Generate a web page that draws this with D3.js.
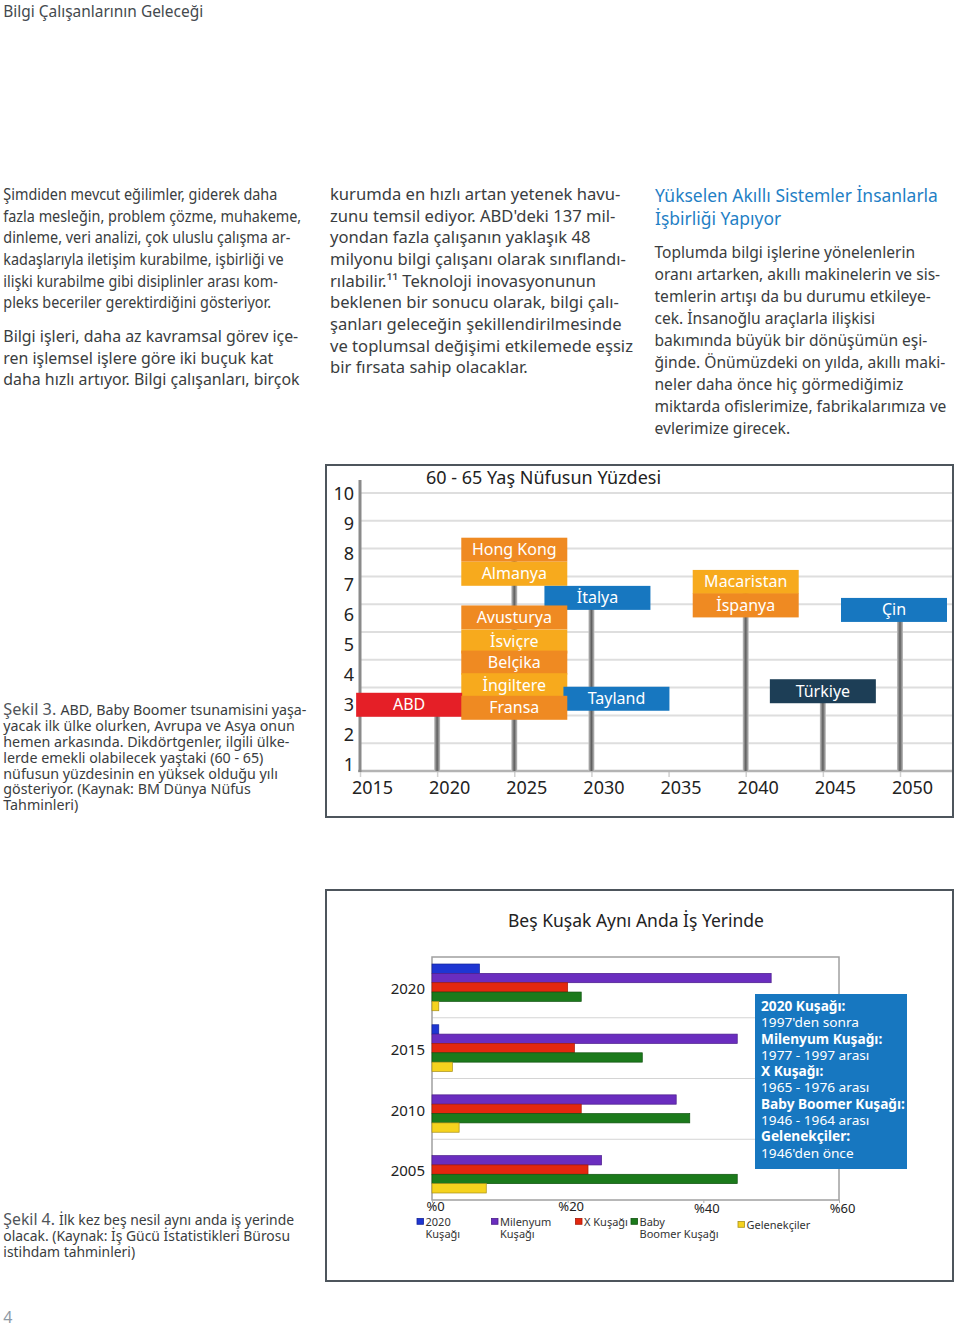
<!DOCTYPE html>
<html><head><meta charset="utf-8">
<script src="https://cdn.jsdelivr.net/npm/d3@7"></script>
<style>
html,body{margin:0;padding:0;background:#fff;}
svg{display:block;font-family:"Noto Sans","Open Sans",sans-serif;}
</style></head><body>
<svg id="page" width="960" height="1331"></svg>
<script>
// ---------- DATA: Şekil 3 ----------
const countries   = ["ABD","Hong Kong","Almanya","Avusturya","İsviçre","Belçika","İngiltere","Fransa","İtalya","Tayland","Macaristan","İspanya","Türkiye","Çin"];
const peakYears   = [2020,2025,2025,2025,2025,2025,2025,2025,2030,2030,2040,2040,2045,2050];
const peakShares  = [3.0,8.15,7.35,5.9,5.1,4.4,3.65,2.9,6.55,3.2,7.08,6.3,3.45,6.15];
const colorGroups = ["usa","euroDark","euroLight","euroDark","euroLight","euroDark","euroLight","euroDark","asia","asia","euroLight","euroDark","tr","asia"];
const yearTicks   = [2015,2020,2025,2030,2035,2040,2045,2050];
const shareTicks  = [1,2,3,4,5,6,7,8,9,10];

// ---------- DATA: Şekil 4 ----------
const snapshotYears   = ["2020","2015","2010","2005"];
const seriesNames     = ["2020 Kuşağı","Milenyum Kuşağı","X Kuşağı","Baby Boomer Kuşağı","Gelenekçiler"];
const shareGen2020    = [7, 1, 0, 0];
const shareMillennial = [50, 45, 36, 25];
const shareGenX       = [20, 21, 22, 23];
const shareBoomer     = [22, 31, 38, 45];
const shareTradition  = [1, 3, 4, 8];
const pctTicks        = [0, 20, 40, 60];
const legendLabels    = ["2020\nKuşağı","Milenyum\nKuşağı","X Kuşağı","Baby\nBoomer Kuşağı","Gelenekçiler"];
const infoPairs = [
  ["2020 Kuşağı:","1997'den sonra"],
  ["Milenyum Kuşağı:","1977 - 1997 arası"],
  ["X Kuşağı:","1965 - 1976 arası"],
  ["Baby Boomer Kuşağı:","1946 - 1964 arası"],
  ["Gelenekçiler:","1946'den önce"]
];

// ---------- TEXT ----------
const pageTitle = "Bilgi Çalışanlarının Geleceği";
const col1a = ["Şimdiden mevcut eğilimler, giderek daha","fazla mesleğin, problem çözme, muhakeme,","dinleme, veri analizi, çok uluslu çalışma ar-","kadaşlarıyla iletişim kurabilme, işbirliği ve","ilişki kurabilme gibi disiplinler arası kom-","pleks beceriler gerektirdiğini gösteriyor."];
const col1b = ["Bilgi işleri, daha az kavramsal görev içe-","ren işlemsel işlere göre iki buçuk kat","daha hızlı artıyor. Bilgi çalışanları, birçok"];
const col2  = ["kurumda en hızlı artan yetenek havu-","zunu temsil ediyor. ABD'deki 137 mil-","yondan fazla çalışanın yaklaşık 48","milyonu bilgi çalışanı olarak sınıflandı-","rılabilir.¹¹ Teknoloji inovasyonunun","beklenen bir sonucu olarak, bilgi çalı-","şanları geleceğin şekillendirilmesinde","ve toplumsal değişimi etkilemede eşsiz","bir fırsata sahip olacaklar."];
const col3h = ["Yükselen Akıllı Sistemler İnsanlarla","İşbirliği Yapıyor"];
const col3  = ["Toplumda bilgi işlerine yönelenlerin","oranı artarken, akıllı makinelerin ve sis-","temlerin artışı da bu durumu etkileye-","cek. İnsanoğlu araçlarla ilişkisi","bakımında büyük bir dönüşümün eşi-","ğinde. Önümüzdeki on yılda, akıllı maki-","neler daha önce hiç görmediğimiz","miktarda ofislerimize, fabrikalarımıza ve","evlerimize girecek."];
const cap3 = ["ABD, Baby Boomer tsunamisini yaşa-","yacak ilk ülke olurken, Avrupa ve Asya onun","hemen arkasında. Dikdörtgenler, ilgili ülke-","lerde emekli olabilecek yaştaki (60 - 65)","nüfusun yüzdesinin en yüksek olduğu yılı","gösteriyor. (Kaynak: BM Dünya Nüfus","Tahminleri)"];
const cap4 = ["İlk kez beş nesil aynı anda iş yerinde","olacak. (Kaynak: İş Gücü İstatistikleri Bürosu","istihdam tahminleri)"];

const svg = d3.select("#page");
const TXT = "#3a3d40";

// multi-line text block (one text element, one tspan per line), horizontally calibrated
function textBlock(lines, x, y0, lh, size, color, targetIdx, targetW, label) {
  const g = svg.append("g").attr("transform", `translate(${x},0)`);
  const inner = g.append("g");
  const text = inner.append("text").attr("font-size", size).attr("fill", color);
  const spans = text.selectAll("tspan.line").data(lines).join("tspan").attr("class", "line")
    .attr("x", 0).attr("y", (d, i) => y0 + i * lh);
  spans.each(function (d, i) {
    const s = d3.select(this);
    if (label && i === 0) s.append("tspan").attr("font-size", 16.5).attr("fill", "#50555a").text(label + " ");
    s.append("tspan").text(d);
  });
  if (targetW) {
    const w = spans.nodes()[targetIdx].getComputedTextLength();
    inner.attr("transform", `scale(${targetW / w},1)`);
  }
  return inner;
}

// page title
textBlock([pageTitle], 3.3, 17, 0, 17, "#44494e", 0, 200);

// columns
textBlock(col1a, 3.3, 200, 21.67, 16, TXT, 1, 298);
textBlock(col1b, 3.3, 342, 21.67, 16, TXT, 2, 296.5);
textBlock(col2, 330, 200, 21.67, 16, TXT, 3, 296);
textBlock(col3h, 655, 202, 23.2, 18.5, "#1f80c5", 0, 283);
textBlock(col3, 654.5, 258.5, 21.9, 16, TXT, 7, 292);

// captions
textBlock(cap3, 3.3, 715, 15.9, 14.5, TXT, 1, 291.7, "Şekil 3.");
textBlock(cap4, 3.3, 1225, 15.9, 14.5, TXT, 1, 287, "Şekil 4.");

svg.append("text").attr("x", 3.3).attr("y", 1323).attr("font-size", 16).attr("fill", "#8e9aa6").text("4");

// ================= Şekil 3 chart =================
svg.append("rect").attr("x", 326).attr("y", 465).attr("width", 627).attr("height", 352)
  .attr("fill", "#fff").attr("stroke", "#4d555c").attr("stroke-width", 2);

svg.append("text").attr("x", 426).attr("y", 483.5).attr("font-size", 18).attr("fill", "#222")
  .text("60 - 65 Yaş Nüfusun Yüzdesi");

const xTop = d3.scaleLinear().domain([2015, 2050]).range([360, 900]);
const yTop = d3.scaleLinear().domain([1, 10]).range([765, 494]);
const gridY = d3.scaleLinear().domain([0, 10]).range([771, 493]);

// gridlines
svg.append("g").selectAll("line").data(d3.range(1, 11)).join("line")
  .attr("x1", 360).attr("x2", 952)
  .attr("y1", d => gridY(d)).attr("y2", d => gridY(d))
  .attr("stroke", "#dedede").attr("stroke-width", 2);

// x axis
const xAxisG = svg.append("g").attr("transform", "translate(0,771)")
  .call(d3.axisBottom(xTop).tickValues(yearTicks).tickFormat(d3.format("d")).tickSize(6).tickPadding(4));
xAxisG.select(".domain").remove();
xAxisG.append("line").attr("x1", 358).attr("x2", 952).attr("stroke", "#b4b4b4").attr("stroke-width", 2.5);
xAxisG.selectAll(".tick line").attr("stroke", "#d0d0d0").attr("stroke-width", 1.5);
xAxisG.selectAll(".tick text").attr("font-size", 18).attr("fill", "#222").attr("dx", 12)
  .attr("font-family", "Noto Sans, sans-serif");

// y axis
const yAxisG = svg.append("g").attr("transform", "translate(360,0)")
  .call(d3.axisLeft(yTop).tickValues(shareTicks).tickSize(0).tickPadding(6));
yAxisG.select(".domain").remove();
yAxisG.selectAll(".tick text").attr("font-size", 18).attr("fill", "#222")
  .attr("font-family", "Noto Sans, sans-serif");
svg.append("line").attr("x1", 360).attr("x2", 360).attr("y1", 480).attr("y2", 772)
  .attr("stroke", "#8a8a8a").attr("stroke-width", 3);

// stems
const defs = svg.append("defs");
const grad = defs.append("linearGradient").attr("id", "stem").attr("x1", 0).attr("x2", 1).attr("y1", 0).attr("y2", 0);
grad.append("stop").attr("offset", 0).attr("stop-color", "#c4c4c4");
grad.append("stop").attr("offset", 0.5).attr("stop-color", "#5e5e5e");
grad.append("stop").attr("offset", 1).attr("stop-color", "#c4c4c4");

const boxes = countries.map((c, i) => ({ name: c, year: peakYears[i], share: peakShares[i], grp: colorGroups[i] }));
const stems = d3.rollups(boxes, v => d3.max(v, d => d.share), d => d.year);
svg.append("g").selectAll("rect").data(stems).join("rect")
  .attr("x", d => xTop(d[0]) - 3).attr("width", 6)
  .attr("y", d => yTop(d[1])).attr("height", d => 771 - yTop(d[1]))
  .attr("fill", "url(#stem)");

// boxes
const boxColor = { usa: "#e51f27", euroDark: "#ef8a22", euroLight: "#f7aa1d", asia: "#1777c0", tr: "#1d3e56" };
const nudge = { "ABD": -28, "Tayland": 25, "İtalya": 6, "Çin": -6 };
const BW = 106, BH = 24;
const bg = svg.append("g").selectAll("g").data(boxes.slice().sort((a, b) => b.share - a.share)).join("g")
  .attr("transform", d => `translate(${xTop(d.year) + (nudge[d.name] || 0)},${yTop(d.share)})`);
bg.append("rect").attr("x", -BW / 2).attr("y", -BH / 2).attr("width", BW).attr("height", BH)
  .attr("fill", d => boxColor[d.grp]);
bg.append("text").attr("text-anchor", "middle").attr("y", 5.5).attr("font-size", 16)
  .attr("fill", "#fff").text(d => d.name);

// ================= Şekil 4 chart =================
svg.append("rect").attr("x", 326).attr("y", 890).attr("width", 627).attr("height", 391)
  .attr("fill", "#fff").attr("stroke", "#4d555c").attr("stroke-width", 2);
svg.append("text").attr("x", 636).attr("y", 927).attr("text-anchor", "middle").attr("font-size", 17.5)
  .attr("fill", "#222").text("Beş Kuşak Aynı Anda İş Yerinde");

const xB = d3.scaleLinear().domain([0, 60]).range([432, 839]);
const yB = d3.scaleBand().domain(snapshotYears).range([957, 1200]);
const ySub = d3.scaleBand().domain(seriesNames).range([0, yB.bandwidth()]).paddingOuter(0.75).paddingInner(0);
const seriesValues = [shareGen2020, shareMillennial, shareGenX, shareBoomer, shareTradition];
const seriesFill = ["#1e36d2", "#6a2dbf", "#e3270f", "#1b7a1b", "#f5d31e"];
const seriesStroke = ["#14249a", "#4a1d8a", "#a51a0a", "#0f520f", "#a8901a"];

// separators
svg.append("g").selectAll("line").data(snapshotYears.slice(1)).join("line")
  .attr("x1", 432).attr("x2", 839).attr("y1", d => yB(d)).attr("y2", d => yB(d))
  .attr("stroke", "#d4d4d4").attr("stroke-width", 1);

// plot frame
svg.append("rect").attr("x", 432).attr("y", 957).attr("width", 407).attr("height", 243)
  .attr("fill", "none").attr("stroke", "#a0a0a0").attr("stroke-width", 1.5);

// bars
const barData = [];
snapshotYears.forEach((yr, yi) => seriesNames.forEach((s, si) => {
  const v = seriesValues[si][yi];
  if (v > 0) barData.push({ yr, s, si, v });
}));
svg.append("g").selectAll("rect").data(barData).join("rect")
  .attr("x", xB(0)).attr("y", d => yB(d.yr) + ySub(d.s))
  .attr("width", d => xB(d.v) - xB(0)).attr("height", ySub.bandwidth())
  .attr("fill", d => seriesFill[d.si]).attr("stroke", d => seriesStroke[d.si]).attr("stroke-width", 0.7);

// y axis labels
const yBAxis = svg.append("g").attr("transform", "translate(432,0)")
  .call(d3.axisLeft(yB).tickSize(0).tickPadding(7));
yBAxis.select(".domain").remove();
yBAxis.selectAll(".tick text").attr("font-size", 15).attr("fill", "#222").attr("dy", "0.45em")
  .attr("font-family", "Noto Sans, sans-serif");

// x axis labels
const xBAxis = svg.append("g").attr("transform", "translate(0,1200)")
  .call(d3.axisBottom(xB).tickValues(pctTicks).tickFormat(d => "%" + d).tickSize(3).tickPadding(0));
xBAxis.select(".domain").remove();
xBAxis.selectAll(".tick line").attr("stroke", "#b0b0b0");
xBAxis.selectAll(".tick text").attr("font-size", 13).attr("fill", "#222").attr("dx", 3)
  .attr("y", 0).attr("dy", (d, i) => i >= 2 ? "1.0em" : "0.85em")
  .attr("font-family", "Noto Sans, sans-serif");

// info box
svg.append("rect").attr("x", 755).attr("y", 994).attr("width", 152).attr("height", 175).attr("fill", "#1777c0");
const info = svg.append("g").attr("transform", "translate(761,0)").append("g");
const infoLines = infoPairs.flatMap(p => [{ t: p[0], b: true }, { t: p[1], b: false }]);
const infoText = info.append("text").attr("font-size", 13.5).attr("fill", "#fff");
const infoT = infoText.selectAll("tspan").data(infoLines).join("tspan")
  .attr("x", 0).attr("y", (d, i) => 1011 + i * 16.3)
  .attr("font-weight", d => d.b ? 700 : 400).text(d => d.t);
{
  const w = infoT.nodes()[6].getComputedTextLength();
  info.attr("transform", `scale(${144 / w},1)`);
}

// legend
const legX = [417, 491.5, 575.5, 631, 738];
const lg = svg.append("g").selectAll("g").data(legendLabels).join("g")
  .attr("transform", (d, i) => `translate(${legX[i]},${i === 4 ? 1221.5 : 1218.5})`);
lg.append("rect").attr("width", 6.5).attr("height", 5.8)
  .attr("fill", (d, i) => seriesFill[i]).attr("stroke", (d, i) => seriesStroke[i]).attr("stroke-width", 0.8);
lg.append("text").attr("font-size", 11).attr("fill", "#333")
  .selectAll("tspan").data(d => d.split("\n")).join("tspan")
  .attr("x", 8.5).attr("y", (d, k) => 7.5 + k * 12).text(d => d);
</script>
</body></html>
